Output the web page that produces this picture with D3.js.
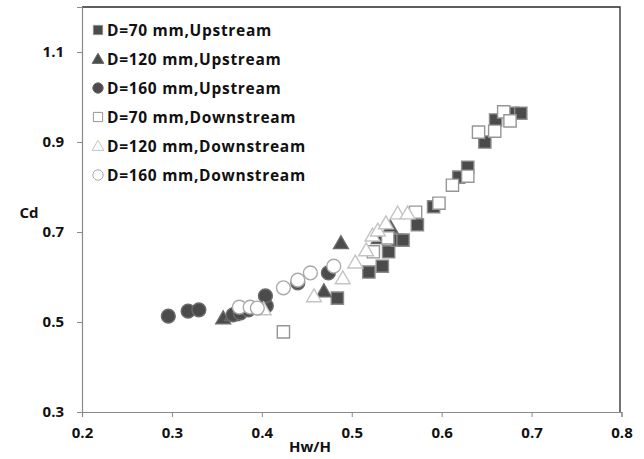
<!DOCTYPE html>
<html>
<head>
<meta charset="utf-8">
<script src="https://cdn.jsdelivr.net/npm/d3@7"></script>
<style>
  body { margin: 0; background: #fff; }
  svg text { font-family: "Open Sans", "Liberation Sans", sans-serif; font-weight: bold; fill: #111; }
</style>
</head>
<body>
<svg id="chart" width="644" height="459"></svg>
<script>
// Cd against Hw/H, three pipe diameters, up- and downstream
var seriesNames = ["D=70 mm,Upstream", "D=120 mm,Upstream", "D=160 mm,Upstream",
                   "D=70 mm,Downstream", "D=120 mm,Downstream", "D=160 mm,Downstream"];

var d70Up = [[0.484,0.553],[0.519,0.611],[0.534,0.624],[0.541,0.656],[0.551,0.682],[0.557,0.682],
             [0.573,0.716],[0.591,0.756],[0.619,0.822],[0.629,0.844],[0.648,0.900],[0.660,0.949],
             [0.679,0.964],[0.688,0.964]];
var d120Up = [[0.357,0.509],[0.367,0.516],[0.469,0.569],[0.488,0.676],[0.530,0.687],[0.543,0.711]];
var d160Up = [[0.296,0.513],[0.318,0.524],[0.330,0.527],[0.368,0.516],[0.376,0.520],[0.385,0.527],
              [0.405,0.536],[0.404,0.558],[0.440,0.587],[0.474,0.609]];
var d70Down = [[0.424,0.478],[0.524,0.656],[0.540,0.687],[0.571,0.744],[0.597,0.764],[0.612,0.804],
               [0.629,0.824],[0.641,0.922],[0.659,0.924],[0.669,0.967],[0.676,0.947]];
var d120Down = [[0.402,0.529],[0.458,0.558],[0.490,0.598],[0.504,0.633],[0.516,0.660],[0.523,0.693],
                [0.529,0.704],[0.538,0.720],[0.551,0.742],[0.562,0.742]];
var d160Down = [[0.375,0.533],[0.387,0.533],[0.395,0.531],[0.424,0.576],[0.440,0.593],[0.454,0.609],
                [0.480,0.624]];

var xTicks = [0.2, 0.3, 0.4, 0.5, 0.6, 0.7, 0.8];
var yTicks = [0.3, 0.5, 0.7, 0.9, 1.1];

var style = [
  {data: d70Up,    shape: d3.symbolSquare,   size: 150, fill: "#4b4b4b", stroke: "#8c8c8c"},
  {data: d120Up,   shape: d3.symbolTriangle, size: 95,  fill: "#4b4b4b", stroke: "#6a6a6a"},
  {data: d160Up,   shape: d3.symbolCircle,   size: 150, fill: "#4b4b4b", stroke: "#6a6a6a"},
  {data: d70Down,  shape: d3.symbolSquare,   size: 150, fill: "#fff",    stroke: "#969696"},
  {data: d120Down, shape: d3.symbolTriangle, size: 95,  fill: "#fff",    stroke: "#c4c4c4"},
  {data: d160Down, shape: d3.symbolCircle,   size: 150, fill: "#fff",    stroke: "#aaaaaa"}
];

var pLeft = 82, pRight = 620, pTop = 7, pBottom = 412;
var x = d3.scaleLinear().domain([0.2, 0.8]).range([pLeft, pRight + 1.5]);
var y = d3.scaleLinear().domain([0.3, 1.2]).range([pBottom, pTop]);

var svg = d3.select('#chart');

// top and right frame of the plot area
svg.append('path')
   .attr('d', 'M' + pLeft + ',' + pTop + 'H' + pRight + 'V' + pBottom)
   .attr('fill', 'none')
   .attr('stroke', '#2a2a2a')
   .attr('stroke-width', 1.3);

var xAxis = svg.append('g')
   .attr('transform', 'translate(0,' + pBottom + ')')
   .call(d3.axisBottom(x).tickValues(xTicks).tickFormat(d3.format('.1f')).tickSizeOuter(0).tickSize(5));
var yAxis = svg.append('g')
   .attr('transform', 'translate(' + pLeft + ',0)')
   .call(d3.axisLeft(y).tickValues(yTicks).tickFormat(d3.format('.1f')).tickSizeOuter(0).tickSize(5));

[xAxis, yAxis].forEach(function(a){
  a.select('.domain').attr('stroke', '#8a8a8a').attr('stroke-width', 1.2);
  a.selectAll('.tick line').attr('stroke', '#8a8a8a');
  a.selectAll('.tick text').attr('font-size', 15).attr('fill', '#111')
   .attr('font-family', '"Open Sans", sans-serif').attr('font-weight', 'bold');
});
xAxis.selectAll('.tick text').attr('y', 15);
yAxis.selectAll('.tick text').attr('x', -18);

svg.append('text').attr('x', 310).attr('y', 452).attr('text-anchor', 'middle')
   .attr('font-size', 15).text('Hw/H');
svg.append('text').attr('x', 29).attr('y', 218).attr('text-anchor', 'middle')
   .attr('font-size', 15).text('Cd');

// markers
style.forEach(function(s){
  var sym = d3.symbol().type(s.shape).size(s.size);
  svg.append('g').selectAll('path')
     .data(s.data)
     .enter()
     .append('path')
     .attr('d', sym)
     .attr('transform', function(d){
        var dy = s.shape === d3.symbolTriangle ? 1.5 : 0;
        return 'translate(' + x(d[0]) + ',' + (y(d[1]) + dy) + ')';
     })
     .attr('fill', s.fill)
     .attr('stroke', s.stroke)
     .attr('stroke-width', 1.4);
});

// legend
var legend = svg.append('g').selectAll('g')
   .data(style)
   .enter()
   .append('g')
   .attr('transform', function(d, i){ return 'translate(98,' + (30 + i * 29) + ')'; });
legend.append('path')
   .attr('d', function(d){
      var sz = d.shape === d3.symbolTriangle ? 60 : 85;
      return d3.symbol().type(d.shape).size(sz)();
   })
   .attr('transform', function(d){ return d.shape === d3.symbolTriangle ? 'translate(0,1)' : null; })
   .attr('fill', function(d){ return d.fill; })
   .attr('stroke', function(d){ return d.stroke; })
   .attr('stroke-width', 1);
legend.append('text')
   .attr('x', 9)
   .attr('dy', '0.36em')
   .attr('font-size', 15.5)
   .attr('letter-spacing', 0.7)
   .text(function(d, i){ return seriesNames[i]; });
</script>
</body>
</html>
